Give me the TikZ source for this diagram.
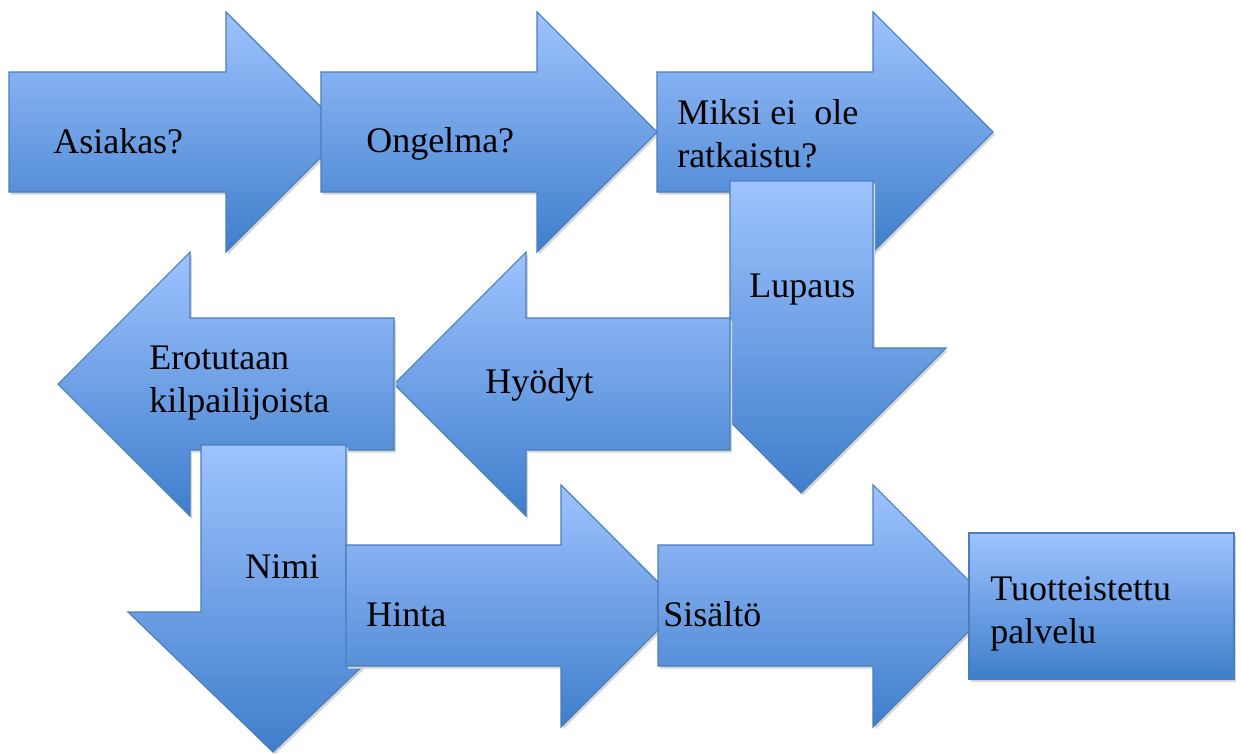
\documentclass[tikz,border=0pt]{standalone}
\usepackage{fontspec}
\setmainfont{Liberation Serif}
\usetikzlibrary{shadows}

\definecolor{arrowtop}{RGB}{158,195,255}
\definecolor{arrowbottom}{RGB}{63,126,203}
\definecolor{arrowline}{RGB}{74,126,187}

\begin{document}
\begin{tikzpicture}[x=0.75pt, y=-0.75pt,
                    blockarrow/.style={draw=arrowline, line width=0.8pt, line join=miter, top color=arrowtop, bottom color=arrowbottom,
                                       drop shadow={shadow xshift=1.5pt, shadow yshift=-2pt, opacity=1, fill=black!16}},
                    txt/.style={anchor=base west, inner sep=0pt, align=left, font=\fontsize{27}{32.25}\selectfont}]

	\useasboundingbox (0,0) rectangle (1241,753);

	% top row, to the right
	\path[blockarrow] (9,72) -- (226,72) -- (226,12) -- (346,132) -- (226,252) -- (226,192) -- (9,192) -- cycle;
	\node[txt] (Asiakas) at (53,153) {Asiakas?};

	\path[blockarrow] (321,72) -- (537,72) -- (537,12) -- (657,132) -- (537,252) -- (537,192) -- (321,192) -- cycle;
	\node[txt] (Ongelma) at (366,152) {Ongelma?};

	\path[blockarrow] (657,72) -- (873,72) -- (873,12) -- (993,132) -- (873,252) -- (873,192) -- (657,192) -- cycle;
	\node[txt] (Miksi) at (677,167) {Miksi ei\ \ ole\\ratkaistu?};

	% down
	\path[blockarrow] (730,181) -- (873,181) -- (873,348) -- (946,348) -- (801,493) -- (657,348) -- (730,348) -- cycle;
	\node[txt] (Lupaus) at (749,297) {Lupaus};

	% middle row, to the left
	\path[blockarrow] (730,318) -- (730,450) -- (526,450) -- (526,516) -- (394,384) -- (526,252) -- (526,318) -- cycle;
	\node[txt] (Hyodyt) at (485,393) {Hyödyt};

	\path[blockarrow] (394,318) -- (394,450) -- (190,450) -- (190,516) -- (58,384) -- (190,252) -- (190,318) -- cycle;
	\node[txt] (Erotutaan) at (149,412) {Erotutaan\\kilpailijoista};

	% down
	\path[blockarrow] (201,445) -- (346,445) -- (346,612) -- (419,612) -- (273,752) -- (128,612) -- (201,612) -- cycle;
	\node[txt] (Nimi) at (245,578) {Nimi};

	% bottom row, to the right
	\path[blockarrow] (346,545) -- (561,545) -- (561,485) -- (682,606) -- (561,727) -- (561,666) -- (346,666) -- cycle;
	\node[txt] (Hinta) at (366,626) {Hinta};

	\path[blockarrow] (658,545) -- (873,545) -- (873,485) -- (994,606) -- (873,727) -- (873,666) -- (658,666) -- cycle;
	\node[txt] (Sisalto) at (663,626) {Sisältö};

	\path[blockarrow] (969,533) rectangle (1234,679);
	\node[txt] (Palvelu) at (990,643) {Tuotteistettu\\palvelu};

\end{tikzpicture}
\end{document}
